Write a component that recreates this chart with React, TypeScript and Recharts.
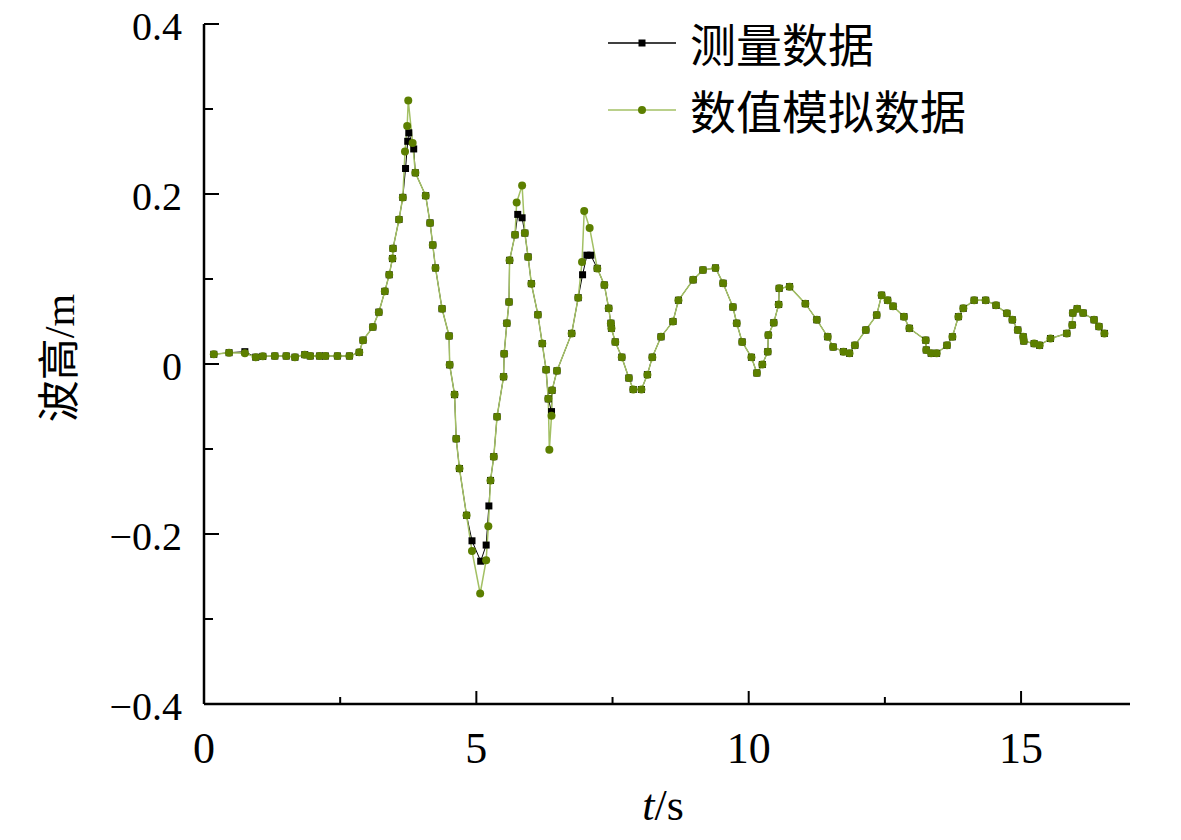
import React from 'react';
import { LineChart, Line, XAxis, YAxis, Legend } from 'recharts';

// ---- data ----
const measuredTime = [
  0.18, 0.46, 0.75, 0.95, 1.08, 1.3, 1.51, 1.67, 1.85, 1.95, 2.12, 2.23, 2.45, 2.67, 2.85, 2.92,
  3.1, 3.21, 3.32, 3.4, 3.46, 3.47, 3.58, 3.65, 3.7, 3.74, 3.76, 3.85, 3.88, 4.07, 4.15, 4.2,
  4.25, 4.37, 4.5, 4.51, 4.6, 4.63, 4.69, 4.82, 4.92, 5.08, 5.18, 5.23, 5.26, 5.32, 5.38, 5.5,
  5.51, 5.56, 5.6, 5.61, 5.71, 5.76, 5.84, 5.89, 5.95, 6.01, 6.13, 6.21, 6.28, 6.32, 6.38, 6.39,
  6.48, 6.75, 6.87, 6.95, 7.03, 7.1, 7.22, 7.35, 7.43, 7.47, 7.48, 7.55, 7.67, 7.8, 7.88, 8.03,
  8.14, 8.23, 8.39, 8.61, 8.71, 8.98, 9.16, 9.39, 9.53, 9.71, 9.78, 9.88, 10.05, 10.15, 10.25,
  10.35, 10.36, 10.46, 10.55, 10.56, 10.75, 11.04, 11.25, 11.45, 11.55, 11.74, 11.85, 11.95,
  12.15, 12.35, 12.44, 12.55, 12.65, 12.85, 12.95, 13.25, 13.26, 13.35, 13.45, 13.64, 13.74,
  13.85, 13.94, 14.14, 14.35, 14.54, 14.74, 14.84, 14.94, 15.04, 15.05, 15.24, 15.34, 15.54,
  15.84, 15.94, 15.95, 16.03, 16.14, 16.34, 16.43, 16.53,
];
const measuredHeight = [
  0.0114, 0.0133, 0.0145, 0.008, 0.009, 0.0094, 0.0094, 0.008, 0.011, 0.0094, 0.0094, 0.0094, 0.0094, 0.0094, 0.0137, 0.028,
  0.0435, 0.061, 0.0855, 0.105, 0.124, 0.136, 0.17, 0.196, 0.23, 0.262, 0.272, 0.253, 0.225, 0.198, 0.166, 0.14,
  0.113, 0.065, 0.033, -0.001, -0.036, -0.088, -0.123, -0.178, -0.208, -0.232, -0.213, -0.167, -0.137, -0.109, -0.062, -0.015,
  0.012, 0.048, 0.073, 0.122, 0.152, 0.176, 0.172, 0.154, 0.126, 0.0945, 0.058, 0.024, -0.0067, -0.041, -0.056, -0.031,
  -0.008, 0.036, 0.078, 0.105, 0.128, 0.128, 0.1125, 0.093, 0.0655, 0.048, 0.042, 0.026, 0.008, -0.0165, -0.03, -0.03,
  -0.0125, 0.008, 0.032, 0.05, 0.075, 0.099, 0.1106, 0.113, 0.095, 0.067, 0.048, 0.026, 0.0079, -0.0106, -0.0006,
  0.0145, 0.034, 0.0486, 0.07, 0.089, 0.091, 0.071, 0.052, 0.032, 0.02, 0.0145, 0.0126, 0.022,
  0.04, 0.0576, 0.081, 0.075, 0.068, 0.0557, 0.042, 0.028, 0.0165, 0.0126, 0.0126, 0.022, 0.032,
  0.0557, 0.0655, 0.075, 0.075, 0.069, 0.0596, 0.052, 0.04, 0.032, 0.027, 0.024, 0.022, 0.03,
  0.036, 0.046, 0.06, 0.065, 0.06, 0.052, 0.044, 0.036,
];

const simulatedTime = [
  0.18, 0.46, 0.75, 0.95, 1.08, 1.3, 1.51, 1.67, 1.85, 1.95, 2.12, 2.23, 2.45, 2.67, 2.85, 2.92,
  3.1, 3.21, 3.32, 3.4, 3.46, 3.47, 3.58, 3.65, 3.69, 3.73, 3.75, 3.83, 3.88, 4.07, 4.15, 4.2,
  4.25, 4.37, 4.5, 4.51, 4.6, 4.63, 4.69, 4.82, 4.92, 5.07, 5.18, 5.22, 5.26, 5.32, 5.38, 5.5,
  5.51, 5.56, 5.6, 5.61, 5.71, 5.74, 5.84, 5.89, 5.95, 6.01, 6.13, 6.21, 6.28, 6.32, 6.34, 6.38,
  6.39, 6.48, 6.75, 6.87, 6.94, 6.98, 7.08, 7.22, 7.35, 7.43, 7.47, 7.48, 7.55, 7.67, 7.8, 7.88, 8.03,
  8.14, 8.23, 8.39, 8.61, 8.71, 8.98, 9.16, 9.39, 9.53, 9.71, 9.78, 9.88, 10.05, 10.15, 10.25,
  10.35, 10.36, 10.46, 10.55, 10.56, 10.75, 11.04, 11.25, 11.45, 11.55, 11.74, 11.85, 11.95,
  12.15, 12.35, 12.44, 12.55, 12.65, 12.85, 12.95, 13.25, 13.26, 13.35, 13.45, 13.64, 13.74,
  13.85, 13.94, 14.14, 14.35, 14.54, 14.74, 14.84, 14.94, 15.04, 15.05, 15.24, 15.34, 15.54,
  15.84, 15.94, 15.95, 16.03, 16.14, 16.34, 16.43, 16.53,
];
const simulatedHeight = [
  0.0114, 0.0133, 0.0126, 0.008, 0.009, 0.0094, 0.0094, 0.008, 0.011, 0.0094, 0.0094, 0.0094, 0.0094, 0.0094, 0.0137, 0.028,
  0.0435, 0.061, 0.0855, 0.105, 0.124, 0.136, 0.17, 0.196, 0.25, 0.28, 0.31, 0.26, 0.225, 0.198, 0.166, 0.14,
  0.113, 0.065, 0.033, -0.001, -0.036, -0.088, -0.123, -0.178, -0.22, -0.27, -0.231, -0.191, -0.137, -0.109, -0.062, -0.015,
  0.012, 0.048, 0.073, 0.122, 0.152, 0.19, 0.21, 0.154, 0.126, 0.0945, 0.058, 0.024, -0.0067, -0.041, -0.101, -0.061,
  -0.031, -0.008, 0.036, 0.078, 0.12, 0.18, 0.16, 0.1125, 0.093, 0.0655, 0.048, 0.042, 0.026, 0.008, -0.0165, -0.03, -0.03,
  -0.0125, 0.008, 0.032, 0.05, 0.075, 0.099, 0.1106, 0.113, 0.095, 0.067, 0.048, 0.026, 0.0079, -0.0106, -0.0006,
  0.0145, 0.034, 0.0486, 0.07, 0.089, 0.091, 0.071, 0.052, 0.032, 0.02, 0.0145, 0.0126, 0.022,
  0.04, 0.0576, 0.081, 0.075, 0.068, 0.0557, 0.042, 0.028, 0.0165, 0.0126, 0.0126, 0.022, 0.032,
  0.0557, 0.0655, 0.075, 0.075, 0.069, 0.0596, 0.052, 0.04, 0.032, 0.027, 0.024, 0.022, 0.03,
  0.036, 0.046, 0.06, 0.065, 0.06, 0.052, 0.044, 0.036,
];

const xTicks = [0, 2.5, 5, 7.5, 10, 12.5, 15];
const xTickLabels = ['0', '', '5', '', '10', '', '15'];
const yTicks = [-0.4, -0.3, -0.2, -0.1, 0, 0.1, 0.2, 0.3, 0.4];
const yTickLabels = ['\u22120.4', '', '\u22120.2', '', '0', '', '0.2', '', '0.4'];
const seriesNames = ['测量数据', '数值模拟数据'];

// ---- styles ----
const SERIF = "'Liberation Serif', 'Times New Roman', 'Noto Sans CJK SC', serif";
const SIM_LINE = '#a3c064';
const SIM_DOT = '#5c7f00';
const Y_TICK_MARGIN = 22;

const measuredData = measuredTime.map((t, i) => ({ t, h: measuredHeight[i] }));
const simulatedData = simulatedTime.map((t, i) => ({ t, h: simulatedHeight[i] }));

const YTick = (props: any) => {
  const { x, y, payload } = props;
  const i = yTicks.findIndex((v) => Math.abs(v - payload.value) < 1e-9);
  const label = i >= 0 ? yTickLabels[i] : '';
  const axisX = x + Y_TICK_MARGIN;
  const len = label ? 15 : 9;
  return (
    <g>
      <line x1={axisX} x2={axisX + len} y1={y} y2={y} stroke="#000" strokeWidth={2} />
      {label ? (
        <text x={x} y={y + 16} textAnchor="end" fontSize={40} fontFamily={SERIF} fill="#000">
          {label}
        </text>
      ) : null}
    </g>
  );
};

const XTick = (props: any) => {
  const { x, y, payload } = props;
  const i = xTicks.findIndex((v) => Math.abs(v - payload.value) < 1e-9);
  const label = i >= 0 ? xTickLabels[i] : '';
  const len = label ? 13 : 7;
  return (
    <g>
      <line x1={x} x2={x} y1={y} y2={y - len} stroke="#000" strokeWidth={2} />
      {label ? (
        <text x={x} y={y + 59} textAnchor="middle" fontSize={44} fontFamily={SERIF} fill="#000">
          {label}
        </text>
      ) : null}
    </g>
  );
};

const SquareDot = (props: any) => {
  const { cx, cy, index } = props;
  if (cx == null || cy == null) return <g key={`m-${index}`} />;
  return <rect key={`m-${index}`} x={cx - 3.5} y={cy - 3.5} width={7} height={7} fill="#000" />;
};

const CircleDot = (props: any) => {
  const { cx, cy, index } = props;
  if (cx == null || cy == null) return <g key={`s-${index}`} />;
  return <circle key={`s-${index}`} cx={cx} cy={cy} r={4} fill={SIM_DOT} />;
};

const renderLegend = () => (
  <svg width={430} height={135} style={{ display: 'block', overflow: 'visible' }}>
    <line x1={8} x2={76} y1={35} y2={35} stroke="#000" strokeWidth={1.5} />
    <rect x={38.5} y={31.5} width={7} height={7} fill="#000" />
    <text x={90} y={54} fontSize={46} fontFamily={SERIF} fill="#000">
      {seriesNames[0]}
    </text>
    <line x1={8} x2={76} y1={102} y2={102} stroke={SIM_LINE} strokeWidth={1.5} />
    <circle cx={42} cy={102} r={4} fill={SIM_DOT} />
    <text x={90} y={121} fontSize={46} fontFamily={SERIF} fill="#000">
      {seriesNames[1]}
    </text>
  </svg>
);

const XLabel = (props: any) => {
  const { viewBox } = props;
  const cx = viewBox.x + viewBox.width / 2 - 4;
  return (
    <text x={cx} y={viewBox.y + 116} textAnchor="middle" fontSize={44} fontFamily={SERIF} fill="#000">
      <tspan fontStyle="italic">t</tspan>
      <tspan>/s</tspan>
    </text>
  );
};

const YLabel = (props: any) => {
  const { viewBox } = props;
  const cx = 60;
  const cy = viewBox.y + viewBox.height / 2 - 6;
  return (
    <text
      x={cx}
      y={cy}
      transform={`rotate(-90 ${cx} ${cy})`}
      textAnchor="middle"
      dominantBaseline="central"
      fontSize={42}
      fontFamily={SERIF}
      fill="#000"
    >
      波高/m
    </text>
  );
};

export default function App() {
  return (
    <div style={{ width: 1181, height: 840, margin: -8, background: '#fff' }}>
      <LineChart width={1181} height={840} margin={{ top: 24, right: 51, left: 0, bottom: 0 }}>
        <XAxis
          type="number"
          dataKey="t"
          domain={[0, 17]}
          ticks={xTicks}
          interval={0}
          allowDataOverflow
          height={136}
          tickSize={0}
          tickMargin={0}
          tickLine={false}
          axisLine={{ stroke: '#000', strokeWidth: 2.5 }}
          tick={<XTick />}
          label={<XLabel />}
        />
        <YAxis
          type="number"
          domain={[-0.4, 0.4]}
          ticks={yTicks}
          interval={0}
          allowDataOverflow
          width={204}
          tickSize={0}
          tickMargin={Y_TICK_MARGIN}
          tickLine={false}
          axisLine={{ stroke: '#000', strokeWidth: 2.5 }}
          tick={<YTick />}
          label={<YLabel />}
        />
        <Legend
          layout="vertical"
          align="center"
          verticalAlign="middle"
          wrapperStyle={{ position: 'absolute', left: 600, top: 8, width: 430, height: 135 }}
          content={renderLegend}
        />
        <Line
          data={measuredData}
          dataKey="h"
          name={seriesNames[0]}
          type="linear"
          stroke="#000"
          strokeWidth={1}
          dot={SquareDot}
          activeDot={false}
          isAnimationActive={false}
        />
        <Line
          data={simulatedData}
          dataKey="h"
          name={seriesNames[1]}
          type="linear"
          stroke={SIM_LINE}
          strokeWidth={1.5}
          dot={CircleDot}
          activeDot={false}
          isAnimationActive={false}
        />
      </LineChart>
    </div>
  );
}
